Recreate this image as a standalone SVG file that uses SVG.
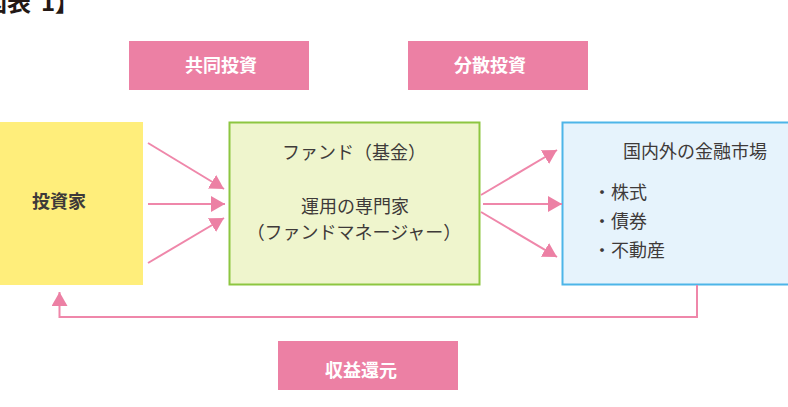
<svg xmlns="http://www.w3.org/2000/svg" width="788" height="407" viewBox="0 0 788 407">
<defs>
<style>
text{font-family:"Noto Sans CJK JP","Noto Sans",sans-serif;}
.lbl{fill:#ec80a4;}
.lt{fill:#ffffff;font-size:18px;font-weight:bold;text-anchor:middle;}
.t{fill:#3e3a39;font-size:18px;}
.c{text-anchor:middle;}
.conn{fill:none;stroke:#ef87aa;stroke-width:2;}
</style>
<marker id="ah" markerUnits="userSpaceOnUse" markerWidth="16" markerHeight="18" refX="14" refY="8" orient="auto">
<path d="M0,0 L14,8 L0,16 z" fill="#ec80a4"/>
</marker>
</defs>
<rect width="788" height="407" fill="#ffffff"/>
<text x="-41" y="11" font-size="24" font-weight="bold" fill="#231815">【図表<tspan x="41">1</tspan><tspan x="55">】</tspan></text>

<g id="label-kyodo">
<rect class="lbl" x="129" y="41" width="180" height="49"/>
<text class="lt" x="221" y="72">共同投資</text>
</g>
<g id="label-bunsan">
<rect class="lbl" x="408" y="41" width="180" height="49"/>
<text class="lt" x="490" y="72">分散投資</text>
</g>
<g id="label-shueki">
<rect class="lbl" x="278" y="341" width="180" height="49"/>
<text class="lt" x="361" y="377">収益還元</text>
</g>

<g id="investor">
<rect x="0" y="122" width="143" height="163" fill="#ffee7b"/>
<text class="t" x="32" y="208" font-weight="bold">投資家</text>
</g>
<g id="fund">
<rect x="229.5" y="122.5" width="250" height="162" fill="#eff5cd" stroke="#8dc641" stroke-width="2"/>
<text class="t c" x="354" y="159">ファンド（基金）</text>
<text class="t c" x="355" y="213">運用の専門家</text>
<text class="t c" x="354" y="239">（ファンドマネージャー）</text>
</g>
<g id="market">
<rect x="562.5" y="122.5" width="230" height="162" fill="#e6f3fc" stroke="#4db5e8" stroke-width="2"/>
<text class="t" x="623" y="158">国内外の金融市場</text>
<text class="t" x="593" y="199">・株式</text>
<text class="t" x="593" y="228">・債券</text>
<text class="t" x="593" y="257">・不動産</text>
</g>

<g id="connectors">
<line class="conn" x1="148" y1="143" x2="224" y2="189" marker-end="url(#ah)"/>
<line class="conn" x1="148" y1="204" x2="225" y2="204" marker-end="url(#ah)"/>
<line class="conn" x1="148" y1="263" x2="224" y2="218" marker-end="url(#ah)"/>
<line class="conn" x1="481" y1="195" x2="557" y2="150" marker-end="url(#ah)"/>
<line class="conn" x1="483" y1="204" x2="562" y2="204" marker-end="url(#ah)"/>
<line class="conn" x1="481" y1="212" x2="557" y2="257" marker-end="url(#ah)"/>
<path class="conn" d="M697,285 V317 H59.5 V292" marker-end="url(#ah)"/>
</g>
</svg>
